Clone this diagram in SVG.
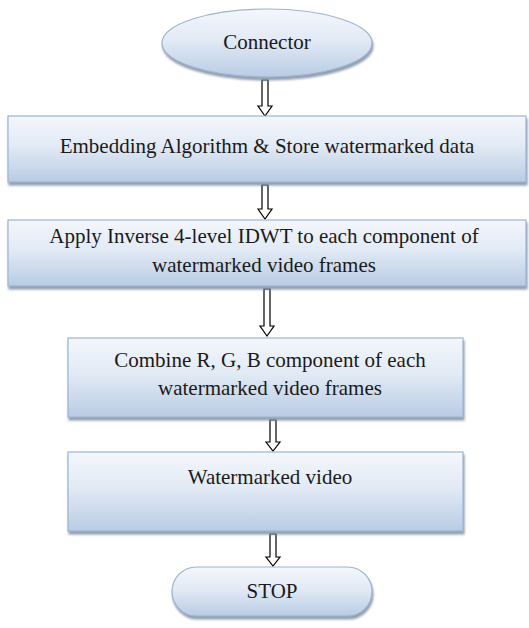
<svg xmlns="http://www.w3.org/2000/svg" width="529" height="628" viewBox="0 0 529 628">
  <defs>
    <linearGradient id="fillGrad" x1="0" y1="0" x2="0" y2="1">
      <stop offset="0" stop-color="#f4f7fc"/>
      <stop offset="0.45" stop-color="#e2eaf5"/>
      <stop offset="1" stop-color="#b9cce4"/>
    </linearGradient>
    <filter id="shadow" x="-5%" y="-10%" width="110%" height="130%">
      <feOffset dx="1" dy="2.5" in="SourceAlpha" result="off"/>
      <feGaussianBlur in="off" stdDeviation="0.8" result="blur"/>
      <feFlood flood-color="#7f8fa3" flood-opacity="0.85"/>
      <feComposite in2="blur" operator="in" result="sh"/>
      <feMerge><feMergeNode in="sh"/><feMergeNode in="SourceGraphic"/></feMerge>
    </filter>
  </defs>
  <style>
    .shape { fill: url(#fillGrad); stroke: #9db4d2; stroke-width: 1.2; filter: url(#shadow); }
    .label { font-family: 'Liberation Serif', 'DejaVu Serif', serif; font-size: 21px; fill: #1a1a1a; text-anchor: middle; }
    .arrow { fill: #ffffff; stroke: #000000; stroke-width: 1.2; stroke-linejoin: miter; }
  </style>
  <rect width="529" height="628" fill="#ffffff"/>

  <!-- connectors: hollow block arrows -->
  <g id="connectors">
    <path class="arrow" d="M262,80 H268 V106 H272 L265,116 L258,106 H262 Z"/>
    <path class="arrow" d="M262,185 H268 V209 H272 L265,219 L258,209 H262 Z"/>
    <path class="arrow" d="M264,289 H270 V326 H274 L267,336 L260,326 H264 Z"/>
    <path class="arrow" d="M270,420 H276 V442 H280 L273,451 L266,442 H270 Z"/>
    <path class="arrow" d="M270,534 H276 V557 H280 L273,566 L266,557 H270 Z"/>
  </g>

  <g id="node-connector">
    <ellipse class="shape" cx="267" cy="43" rx="105" ry="34"/>
    <text class="label" x="267" y="49" font-family="Liberation Serif, serif">Connector</text>
  </g>

  <g id="node-embedding">
    <rect class="shape" x="8" y="116" width="518" height="66"/>
    <text class="label" x="267" y="153">Embedding Algorithm &amp; Store watermarked data</text>
  </g>

  <g id="node-idwt">
    <rect class="shape" x="8" y="220" width="518" height="66"/>
    <text class="label" x="264" y="243">Apply Inverse 4-level IDWT to each component of</text>
    <text class="label" x="264" y="272">watermarked video frames</text>
  </g>

  <g id="node-combine">
    <rect class="shape" x="68" y="338" width="395" height="79"/>
    <text class="label" x="270" y="367">Combine R, G, B component of each</text>
    <text class="label" x="270" y="395">watermarked video frames</text>
  </g>

  <g id="node-video">
    <rect class="shape" x="68" y="452" width="395" height="79"/>
    <text class="label" x="270" y="484">Watermarked video</text>
  </g>

  <g id="node-stop">
    <rect class="shape" x="172" y="567" width="200" height="49" rx="24.5" ry="24.5"/>
    <text class="label" x="272" y="598">STOP</text>
  </g>
</svg>
